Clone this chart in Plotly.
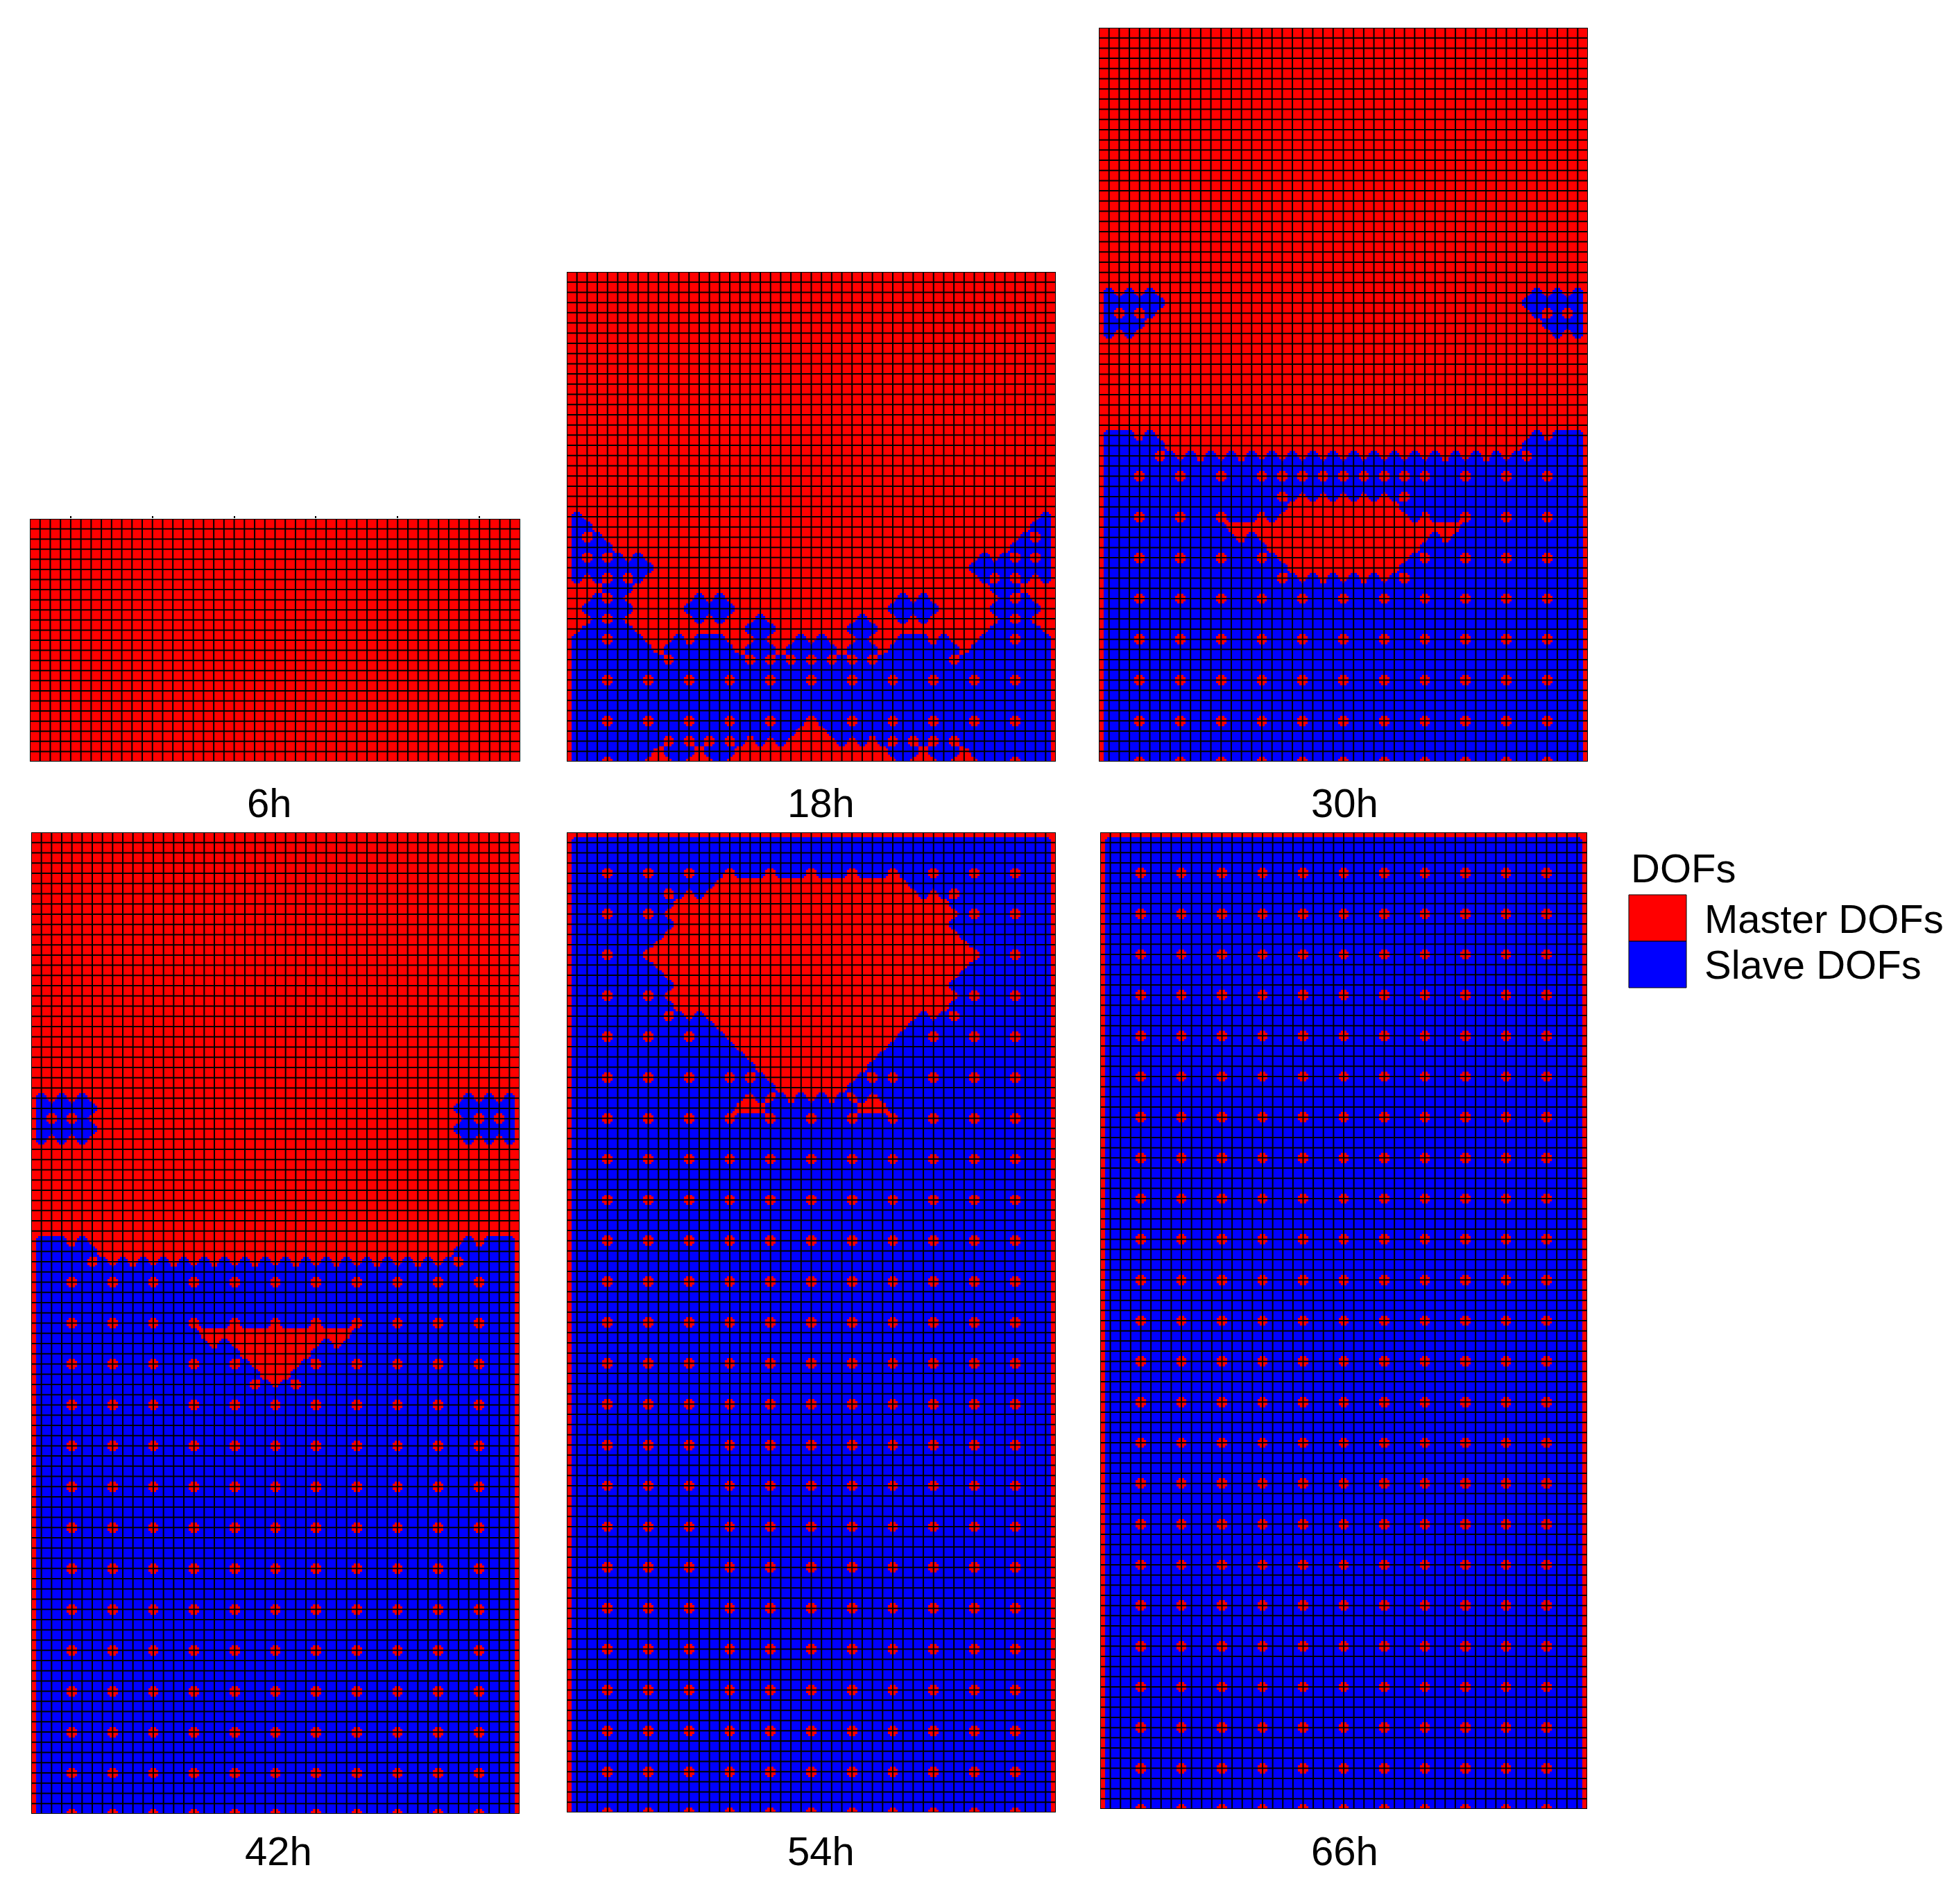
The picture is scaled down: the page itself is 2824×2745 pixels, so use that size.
"""
Master / slave DOF maps of the layer-by-layer FE mesh, six build stages.
Each row string is one row of mesh nodes from c0 to the centre column c24,
top row first; the right half of the mesh mirrors it.
# = master DOF, . = slave DOF
"""
import numpy as np
import plotly.graph_objects as go

# Common node rows
ALL = "#########################"
PLAIN = "#........................"
LATTICE = "#...#...#...#...#...#...#"
BLOCK = [PLAIN, PLAIN, PLAIN, LATTICE]

# Rows shared by the front and the patches
EDGE_A = "#...#.###################"
EDGE_B = "#......##################"
EDGE_C = "#.....#.#.#.#.#.#.#.#.#.#"
SIDE_A = "#.#.#.###################"
SIDE_B = "#.#.#####################"
SIDE_C = "#....####################"
TIPS = "#.................#.#.#.#"
STEP_19 = "#..................######"

ROWS_6H = [ALL] * 25

ROWS_18H = [ALL] * 24 + [
    "#.#######################",
    "#..######################",
    SIDE_B,
    SIDE_C,
    "#.#.#.#.#################",
    "#........################",
    "#.#.#.#.#################",
    "####...##################",
    "###.#.#######.#.#########",
    "##.....#####.....########",
    "###.#.#######.#.###.#####",
    "##.....###########...####",
    "#...#...###.#...###.###.#",
    "#........#.......#...#...",
    "#.........#.......#.#.#.#",
    PLAIN,
    LATTICE,
    PLAIN,
    PLAIN,
    PLAIN,
    LATTICE,
    "#......................##",
    "#.........#.#.#.#.#.#.###",
    "#........#...#...########",
    "#...#...###.###.#########",
]

ROWS_30H = [ALL] * 26 + [
    SIDE_A,
    EDGE_B,
    SIDE_A,
    SIDE_C,
    SIDE_B,
] + [ALL] * 9 + [
    EDGE_A,
    EDGE_B,
    EDGE_C,
    PLAIN,
    "#...#...#...#...#.#.#.#.#",
    PLAIN,
    TIPS,
    STEP_19,
    "#...#...#...#...#.#######",
    "#............############",
    "#.............#.#########",
    "#................########",
    "#...#...#...#...#.#######",
    STEP_19,
    TIPS,
    PLAIN,
    LATTICE,
] + BLOCK * 4

ROWS_42H = [ALL] * 26 + [
    SIDE_A,
    EDGE_B,
    SIDE_A,
    EDGE_B,
    SIDE_A,
] + [ALL] * 9 + [
    EDGE_A,
    EDGE_B,
    EDGE_C,
    PLAIN,
    LATTICE,
    PLAIN,
    PLAIN,
    PLAIN,
    "#...#...#...#...#...#...#",
    "#................########",
    "#.................#.#####",
    "#....................####",
    "#...#...#...#...#...#.###",
    "#......................##",
    "#.....................#.#",
    PLAIN,
    LATTICE,
] + BLOCK * 10

ROWS_54H = [ALL, PLAIN, PLAIN, PLAIN, LATTICE] + [
    "#..............##########",
    "#.........#.#.###########",
    "#..........##############",
    "#...#...#.###############",
    "#..........##############",
    "#.........###############",
    "#........################",
    "#...#...#################",
    "#........################",
    "#.........###############",
    "#..........##############",
    "#...#...#.###############",
    "#..........##############",
    "#.........#.#.###########",
    "#..............##########",
    "#...#...#...#...#########",
    "#................########",
    "#.................#######",
    STEP_19,
    "#...#...#...#...#.#.#####",
    "#....................####",
    TIPS,
    "#................###.....",
    LATTICE,
] + BLOCK * 17

ROWS_66H = [ALL] + BLOCK * 24

PANEL_ROWS = [ROWS_6H, ROWS_18H, ROWS_30H, ROWS_42H, ROWS_54H, ROWS_66H]
PANEL_LABELS = ["6h", "18h", "30h", "42h", "54h", "66h"]
LEGEND_TITLE = "DOFs"
LEGEND_NAMES = ["Master DOFs", "Slave DOFs"]
TOP_TICKS_6H = [4, 12, 20, 28, 36, 44]

RED = "#ff0000"
BLUE = "#0000ff"
FONT = "Liberation Sans"

# The page body keeps an 8 px margin, so all picture pixels shift by it
PAGE_MARGIN = 8
WIDTH, HEIGHT = 2808, 2729
# left, right, top, bottom of each panel in picture pixels
PANEL_BOXES = [
    (43, 750, 748, 1098),
    (817, 1522, 392, 1098),
    (1584, 2289, 40, 1098),
    (45, 749, 1200, 2615),
    (817, 1522, 1200, 2613),
    (1586, 2288, 1200, 2608),
]
LABEL_POS = [(389, 1157), (1183, 1157), (1938, 1157), (401, 2668), (1183, 2668), (1938, 2668)]

N_COLS = 48
SUB = 5  # contour samples per element
LEVEL = 0.55  # master/slave contour level


def px(x):
    return (x - PAGE_MARGIN) / WIDTH


def py(y):
    return 1 - (y - PAGE_MARGIN) / HEIGHT


def refine_axis(a, axis):
    # Catmull-Rom resampling of the nodal values, gives the round contour lobes
    a = np.moveaxis(a, axis, 0)
    p = np.pad(a, ((1, 1), (0, 0)), mode="edge")
    n = a.shape[0] - 1
    pos = np.arange(n * SUB + 1) / SUB
    i = np.minimum(pos.astype(int), n - 1)
    t = (pos - i)[:, None]
    out = (
        (-0.5 * t**3 + t**2 - 0.5 * t) * p[i]
        + (1.5 * t**3 - 2.5 * t**2 + 1) * p[i + 1]
        + (-1.5 * t**3 + 2 * t**2 + 0.5 * t) * p[i + 2]
        + (0.5 * t**3 - 0.5 * t**2) * p[i + 3]
    )
    return np.moveaxis(out, 0, axis)


fig = go.Figure()

for i, rows in enumerate(PANEL_ROWS):
    idx = i + 1
    x_id = "x" if idx == 1 else f"x{idx}"
    y_id = "y" if idx == 1 else f"y{idx}"
    n_rows = len(rows) - 1
    for row in rows:
        assert len(row) == 25, row

    # z runs bottom row first, as the y axis does
    z = []
    for row in reversed(rows):
        full = row + row[-2::-1]
        z.append([1.0 if c == "#" else 0.0 for c in full])
    fine = refine_axis(refine_axis(np.array(z), 0), 1)
    master = (fine >= LEVEL).astype(int)

    fig.add_trace(go.Heatmap(
        z=master.tolist(),
        x=(np.arange(N_COLS * SUB + 1) / SUB).tolist(),
        y=(np.arange(n_rows * SUB + 1) / SUB).tolist(),
        zmin=0,
        zmax=1,
        colorscale=[[0, BLUE], [0.5, BLUE], [0.5, RED], [1, RED]],
        showscale=False,
        hoverinfo="skip",
        xaxis=x_id,
        yaxis=y_id,
    ))

    # Element edges
    mesh_x, mesh_y = [], []
    for c in range(N_COLS + 1):
        mesh_x += [c, c, None]
        mesh_y += [0, n_rows, None]
    for r in range(n_rows + 1):
        mesh_x += [0, N_COLS, None]
        mesh_y += [r, r, None]
    fig.add_trace(go.Scatter(
        x=mesh_x,
        y=mesh_y,
        mode="lines",
        line=dict(color="#000000", width=2),
        cliponaxis=False,
        showlegend=False,
        hoverinfo="skip",
        xaxis=x_id,
        yaxis=y_id,
    ))

    left, right, top, bottom = PANEL_BOXES[i]
    name_x = "xaxis" if idx == 1 else f"xaxis{idx}"
    name_y = "yaxis" if idx == 1 else f"yaxis{idx}"
    x_axis = dict(
        domain=[px(left), px(right)],
        range=[0, N_COLS],
        anchor=y_id,
        showgrid=False,
        zeroline=False,
        showticklabels=False,
        ticks="",
    )
    if i == 0:
        x_axis.update(side="top", tickvals=TOP_TICKS_6H, ticks="outside",
                      ticklen=3, tickwidth=1.5, tickcolor="#000000")
    fig.update_layout(**{
        name_x: x_axis,
        name_y: dict(
            domain=[py(bottom), py(top)],
            range=[0, n_rows],
            anchor=x_id,
            showgrid=False,
            zeroline=False,
            showticklabels=False,
            ticks="",
        ),
    })

    fig.add_annotation(
        x=px(LABEL_POS[i][0]), y=py(LABEL_POS[i][1]),
        xref="paper", yref="paper", text=PANEL_LABELS[i], showarrow=False,
        xanchor="center", yanchor="middle",
        font=dict(family=FONT, size=58, color="#000000"),
    )

# Legend block
fig.add_annotation(
    x=px(2349), y=py(1251), xref="paper", yref="paper",
    text=LEGEND_TITLE, showarrow=False, xanchor="left", yanchor="middle",
    font=dict(family=FONT, size=58, color="#000000"),
)
swatch_tops = [1290, 1357]
swatch_colors = [RED, BLUE]
for name, sw_top, color in zip(LEGEND_NAMES, swatch_tops, swatch_colors):
    fig.add_shape(
        type="rect", xref="paper", yref="paper",
        x0=px(2348), x1=px(2431),
        y0=py(sw_top + 67), y1=py(sw_top),
        fillcolor=color, line=dict(color="#000000", width=1),
    )
    fig.add_annotation(
        x=px(2455), y=py(sw_top + 34), xref="paper", yref="paper",
        text=name, showarrow=False, xanchor="left", yanchor="middle",
        font=dict(family=FONT, size=58, color="#000000"),
    )

fig.update_layout(
    width=WIDTH,
    height=HEIGHT,
    margin=dict(l=0, r=0, t=0, b=0),
    paper_bgcolor="#ffffff",
    plot_bgcolor="#ffffff",
    showlegend=False,
)

fig.write_html("out.html")
